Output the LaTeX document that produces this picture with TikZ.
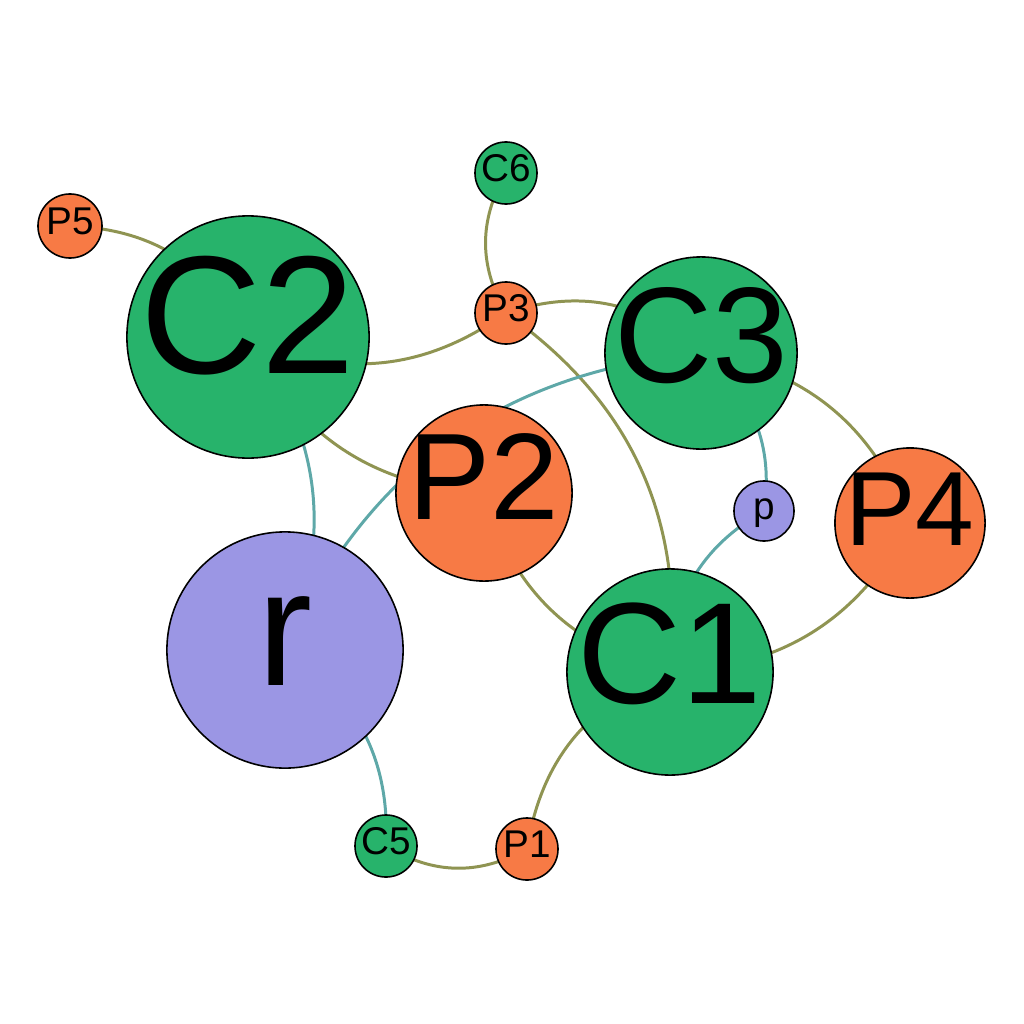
\documentclass[tikz,border=0pt]{standalone}
\usepackage{fontspec}
\setmainfont{Liberation Sans}
\usetikzlibrary{backgrounds}
\definecolor{cgreen}{RGB}{39,179,107}
\definecolor{corange}{RGB}{247,122,69}
\definecolor{cpurple}{RGB}{155,150,228}
\definecolor{colive}{RGB}{143,148,82}
\definecolor{cteal}{RGB}{94,168,168}

\begin{document}
\begin{tikzpicture}[x=0.01cm, y=-0.01cm,
    vertex/.style 2 args={circle, draw=black, line width=0.45pt, inner sep=0pt,
        minimum size=#1*0.02cm, font=\fontsize{#2pt}{#2pt}\selectfont,
        text height=0.645*#2pt, text depth=0.215*#2pt,
        execute at begin node={\hbox to 0pt\bgroup\hss}, execute at end node={\hss\egroup}},
    link/.style={line width=0.85pt}]
    \useasboundingbox (0,0) rectangle (1024,1024);
    \foreach \n/\x/\y/\r/\f/\c in {C2/248/337/121/47.8/cgreen, C3/701/353/96/38.7/cgreen,
            C1/670/672/103/41/cgreen, C5/386/846/31/11/cgreen, C6/506/173/31/11/cgreen,
            P1/527/849/31/11/corange, P2/484/493/88/35/corange, P3/506/313/31/11/corange,
            P4/910/523/75/30/corange, P5/70/226/32/11/corange,
            r/285/650/118/47/cpurple, p/764/511/30/11/cpurple}
        \node[vertex={\r}{\f}, fill=\c] (\n) at (\x,\y) {\n};
    \begin{scope}[on background layer]
        \foreach \a/\b in {P5/C2, P3/C6, P3/C2, P3/C3, P3/C1, P2/C2, C3/P4, P4/C1, C1/P2, P1/C5, P1/C1}
            \draw[link, colive] (\a.center) to[bend left=30] (\b.center);
        \foreach \a/\b in {C2/r, r/C3, C3/p, C1/p, r/C5}
            \draw[link, cteal] (\a.center) to[bend left=30] (\b.center);
    \end{scope}
\end{tikzpicture}
\end{document}
